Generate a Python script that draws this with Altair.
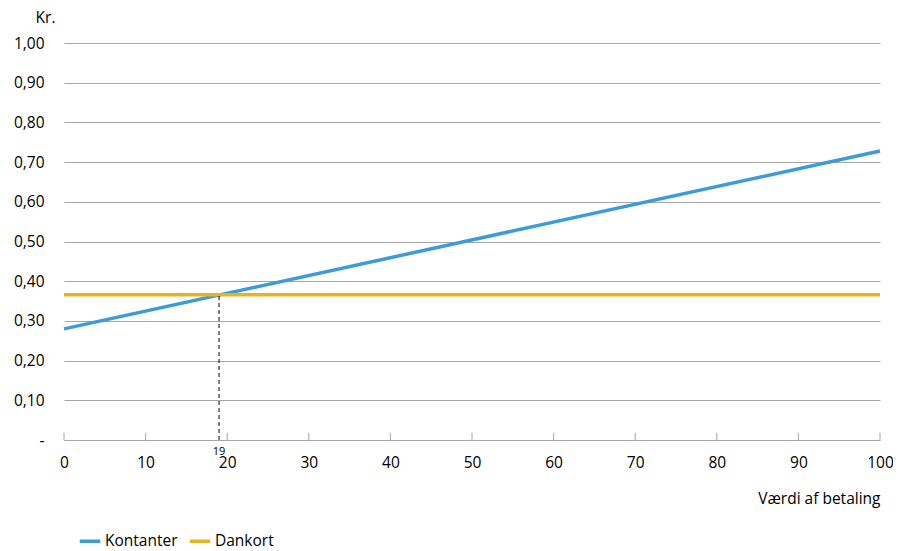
import altair as alt
import pandas as pd

x_vals = [0, 100]
kontanter = [0.280, 0.728]
dankort = [0.366, 0.366]
series_names = ["Kontanter", "Dankort"]
colors = ["#3C9BD8", "#E5B51E"]
break_even = 19
x_ticks = [0, 10, 20, 30, 40, 50, 60, 70, 80, 90, 100]
y_ticks = [0, 0.1, 0.2, 0.3, 0.4, 0.5, 0.6, 0.7, 0.8, 0.9, 1.0]

rows = []
for name, ys in zip(series_names, [kontanter, dankort]):
    for x, y in zip(x_vals, ys):
        rows.append({"x": x, "y": y, "serie": name})
df = pd.DataFrame(rows)

FONT = "Open Sans"
FS = 15.5
W, H = 816, 397

xs = alt.Scale(domain=[0, 100], nice=False)
ys = alt.Scale(domain=[0, 1], nice=False)

x_axis = alt.Axis(
    values=x_ticks, tickSize=0, grid=False, domainColor="#a6a6a6", domainWidth=1,
    labelFont=FONT, labelFontSize=FS, labelColor="#000", labelPadding=15,
    labelFlush=False, labelOverlap=False,
    title="Værdi af betaling", titleFont=FONT, titleFontSize=FS, titleFontWeight="normal",
    titleColor="#000", titleX=W, titleY=63, titleAlign="right", titleBaseline="alphabetic")
y_axis = alt.Axis(
    values=y_ticks, tickSize=0, domain=False, grid=True, gridColor="#a6a6a6", gridWidth=1,
    labelFont=FONT, labelFontSize=FS, labelColor="#000", labelPadding=20,
    labelOverlap=False, labelFlush=False,
    labelExpr="datum.value == 0 ? '-\u00a0\u00a0\u00a0\u00a0\u00a0' : replace(format(datum.value, '.2f'), '.', ',')",
    title="Kr.", titleAngle=0, titleFont=FONT, titleFontSize=FS, titleFontWeight="normal",
    titleColor="#000", titleX=-9, titleY=-21, titleAlign="right", titleBaseline="alphabetic")

lines = alt.Chart(df).mark_line(strokeWidth=3.5).encode(
    x=alt.X("x:Q", scale=xs, axis=x_axis),
    y=alt.Y("y:Q", scale=ys, axis=y_axis),
    color=alt.Color("serie:N", scale=alt.Scale(domain=series_names, range=colors),
                    sort=series_names,
                    legend=alt.Legend(orient="none", legendX=14, legendY=486, direction="horizontal",
                                      title=None, labelFont=FONT, labelFontSize=FS, labelColor="#000",
                                      symbolType="stroke", symbolStrokeWidth=3.5, symbolSize=420,
                                      columnPadding=4, labelOffset=3)))

tick_df = pd.DataFrame({"x": x_ticks, "y0": [0] * len(x_ticks), "y1": [0.018] * len(x_ticks)})
ticks = alt.Chart(tick_df).mark_rule(color="#a6a6a6", strokeWidth=1).encode(
    x=alt.X("x:Q", scale=xs, axis=x_axis), y=alt.Y("y0:Q", scale=ys, axis=y_axis), y2="y1:Q")

be_df = pd.DataFrame({"x": [break_even], "y0": [0], "y1": [dankort[0]], "lab": [str(break_even)]})
dash = alt.Chart(be_df).mark_rule(color="#000", strokeWidth=1, strokeDash=[4, 3]).encode(
    x=alt.X("x:Q", scale=xs, axis=x_axis), y=alt.Y("y0:Q", scale=ys, axis=y_axis), y2="y1:Q")
lab = alt.Chart(be_df).mark_text(font=FONT, fontSize=11, color="#000", baseline="alphabetic",
                                   dy=15, dx=0).encode(
    x=alt.X("x:Q", scale=xs, axis=x_axis), y=alt.Y("y0:Q", scale=ys, axis=y_axis), text="lab:N")

chart = alt.layer(lines, ticks, dash, lab).properties(
    width=W, height=H,
    autosize=alt.AutoSizeParams(type="none"),
    padding={"left": 56, "top": 35, "right": 13, "bottom": 110},
).configure_view(stroke=None)

chart.save("out.html", embed_options={"renderer": "svg", "actions": False})
